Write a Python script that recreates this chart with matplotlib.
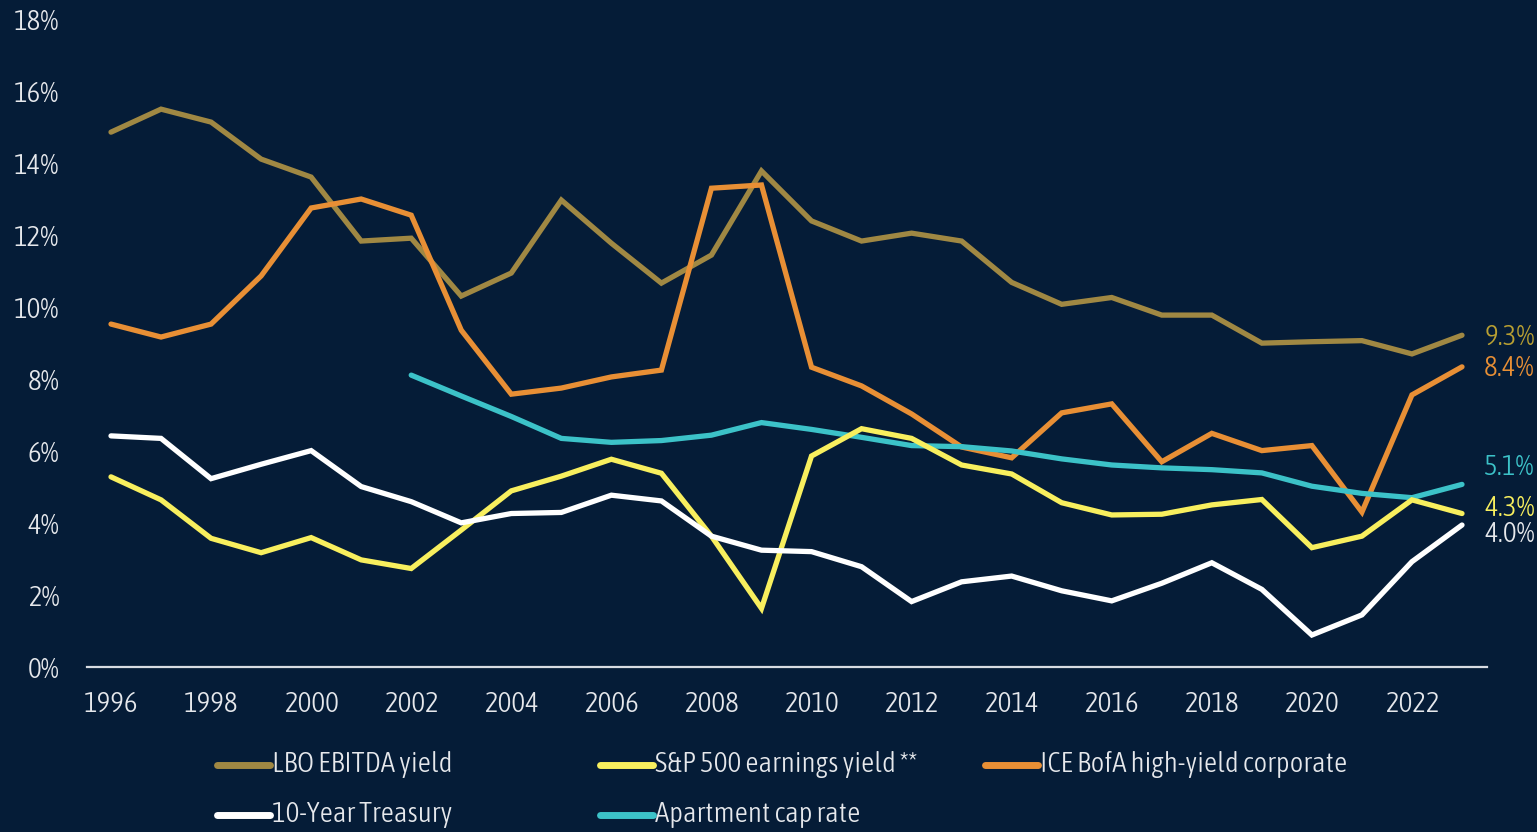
import matplotlib
matplotlib.use("Agg")
import matplotlib.pyplot as plt
from matplotlib.lines import Line2D
import matplotlib.font_manager as fm

years = list(range(1996, 2024))

lbo_ebitda = [14.88, 15.52, 15.16, 14.13, 13.63, 11.85, 11.93, 10.32, 10.96, 12.99,
              11.79, 10.68, 11.46, 13.80, 12.41, 11.85, 12.07, 11.85, 10.70, 10.09,
              10.28, 9.79, 9.79, 9.01, 9.05, 9.08, 8.71, 9.23]
sp500_yield = [5.29, 4.65, 3.58, 3.18, 3.60, 2.98, 2.74, 3.81, 4.90, 5.31,
               5.78, 5.39, 3.64, 1.63, 5.87, 6.63, 6.36, 5.62, 5.37, 4.57,
               4.23, 4.25, 4.51, 4.66, 3.32, 3.64, 4.65, 4.27]
hy_corporate = [9.54, 9.18, 9.54, 10.88, 12.77, 13.02, 12.57, 9.37, 7.59, 7.76,
                8.07, 8.26, 13.32, 13.41, 8.34, 7.82, 7.04, 6.12, 5.82, 7.07,
                7.32, 5.71, 6.50, 6.02, 6.16, 4.31, 7.57, 8.35]
treasury_10y = [6.43, 6.36, 5.24, 5.64, 6.02, 5.02, 4.60, 4.01, 4.27, 4.30,
                4.78, 4.62, 3.64, 3.25, 3.21, 2.79, 1.82, 2.37, 2.53, 2.12,
                1.84, 2.33, 2.90, 2.16, 0.89, 1.45, 2.93, 3.95]
apt_years = list(range(2002, 2024))
apartment_cap = [8.12, 7.54, 6.97, 6.36, 6.25, 6.30, 6.45, 6.80, 6.61, 6.39,
                 6.16, 6.13, 6.01, 5.79, 5.62, 5.54, 5.49, 5.40, 5.03, 4.83,
                 4.71, 5.08]

end_labels = ["9.3%", "8.4%", "5.1%", "4.3%", "4.0%"]
y_ticks = list(range(0, 20, 2))
x_ticks = list(range(1996, 2024, 2))

BG = "#051c37"
TXT = "#e6e8ec"
C_LBO = "#a08843"
C_SP = "#f8ef5e"
C_HY = "#e88f35"
C_TR = "#ffffff"
C_APT = "#3cc2c8"


def wnum(w):
    if isinstance(w, (int, float)):
        return w
    return fm.weight_dict.get(str(w).lower(), 400)


def is_cond(f):
    n = (f.name + " " + str(f.fname)).lower()
    return ("condensed" in n or "narrow" in n or str(f.stretch) in
            ("condensed", "semi-condensed", "extra-condensed", "ultra-condensed"))


cands = [f for f in fm.fontManager.ttflist if is_cond(f) and f.style == 'normal']
if cands:
    cands.sort(key=lambda f: (abs(wnum(f.weight) - 300), f.fname))
    FP = fm.FontProperties(fname=cands[0].fname)
else:
    FP = fm.FontProperties(family=["Lato", "DejaVu Sans"], weight='light')
FS = 21
FPs = FP.copy()
FPs.set_size(FS)

fig = plt.figure(figsize=(15.37, 8.32), dpi=100, facecolor=BG)
ax = fig.add_axes([87/1537, 1-667/832, 1400/1537, 647/832])
ax.set_facecolor(BG)

lw = 3.8
series = [
    (years, lbo_ebitda, C_LBO, "LBO EBITDA yield"),
    (years, sp500_yield, C_SP, "S&P 500 earnings yield **"),
    (years, hy_corporate, C_HY, "ICE BofA high-yield corporate"),
    (years, treasury_10y, C_TR, "10-Year Treasury"),
    (apt_years, apartment_cap, C_APT, "Apartment cap rate"),
]
for idx in [0, 2, 4, 1, 3]:
    xs, ys, c, lab = series[idx]
    ax.plot(xs, ys, color=c, lw=lw, solid_capstyle='round', solid_joinstyle='miter')

ax.set_xlim(1996 - 24/50.04, 2023 + 25/50.04)
ax.set_ylim(0, 18)
for s in ["top", "right", "left"]:
    ax.spines[s].set_visible(False)
ax.spines["bottom"].set_color("#d8dce2")
ax.spines["bottom"].set_linewidth(1.6)
ax.set_yticks(y_ticks)
ax.set_yticklabels([f"{v}%" for v in y_ticks], fontproperties=FPs)
ax.set_xticks(x_ticks)
ax.set_xticklabels([str(v) for v in x_ticks], fontproperties=FPs)
ax.tick_params(axis='both', length=0, colors=TXT)
ax.tick_params(axis='y', pad=20)
ax.tick_params(axis='x', pad=17)

end_vals = [lbo_ebitda[-1], hy_corporate[-1], apartment_cap[-1], sp500_yield[-1], treasury_10y[-1]]
end_cols = ["#b9a032", C_HY, C_APT, C_SP, TXT]
end_off = [-1.5, -1, 12, 3.6, -7]
for lab, v, c, off in zip(end_labels, end_vals, end_cols, end_off):
    ax.annotate(lab, xy=(2023, v), xytext=(16, off), textcoords='offset points',
                color=c, fontproperties=FPs, va='center', ha='left', annotation_clip=False)

leg_pos = [(217, 765), (600, 765), (985, 765), (217, 815), (600, 815)]
for (xs, ys, c, lab), (px, py) in zip(series, leg_pos):
    fy = 1 - py/832
    fig.add_artist(Line2D([px/1537, (px + 53)/1537], [fy, fy], color=c, lw=5,
                          solid_capstyle='round', transform=fig.transFigure))
    fig.text((px + 55)/1537, fy, lab, color=TXT, fontproperties=FPs, va='center', ha='left')

fig.savefig("out.png", dpi=100, facecolor=BG)
